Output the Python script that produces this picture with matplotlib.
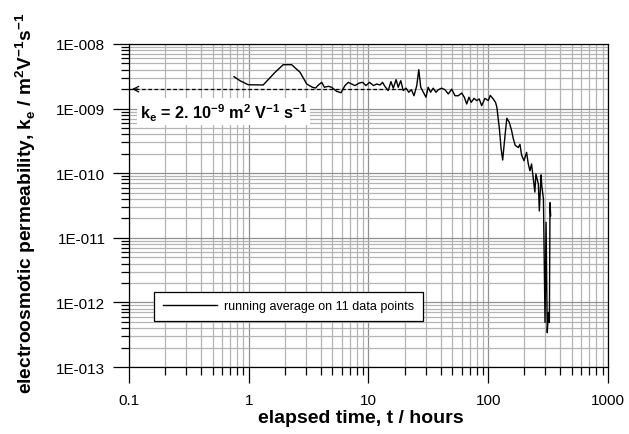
import numpy as np
import matplotlib
matplotlib.use('Agg')
import matplotlib.pyplot as plt
from matplotlib.ticker import FixedLocator, FuncFormatter, NullFormatter

plt.rcParams['font.family'] = ['Liberation Sans', 'DejaVu Sans']
plt.rcParams['mathtext.fontset'] = 'custom'
plt.rcParams['mathtext.rm'] = 'Liberation Sans'
plt.rcParams['mathtext.bf'] = 'Liberation Sans:bold'

# elapsed time (hours) and running-average electroosmotic permeability (m2 V-1 s-1)
time_h = [0.753, 0.845, 0.99, 1.32, 1.66, 1.94, 2.28, 2.68, 3.05, 3.40, 3.62, 3.77,
          4.07, 4.28, 4.62, 4.92, 5.42, 5.89, 6.36, 6.78, 7.23, 7.71, 8.38, 8.94,
          9.52, 10.2, 11.0, 11.7, 12.5, 13.1, 13.7, 14.6, 15.4, 16.1, 17.0, 17.7,
          18.6, 19.5, 20.6, 21.7, 22.8, 24.0, 25.3, 26.3, 27.3, 28.7, 30.2, 31.5,
          33.0, 34.7, 36.6, 38.3, 40.8, 43.5, 46.4, 49.5, 52.8, 56.2, 60.0, 63.1,
          66.1, 69.0, 72.1, 76.0, 80.0, 84.1, 88.1, 93.9, 100, 104, 110, 115,
          118, 124, 128, 132, 138, 143, 150, 157, 162, 168, 178, 184,
          190, 199, 209, 216, 223, 230, 238, 245, 250, 262, 267, 276,
          280, 289, 298, 304, 311, 318, 324, 328, 332]
ke = [3.12e-9, 2.70e-9, 2.34e-9, 2.32e-9, 3.65e-9, 4.78e-9, 4.78e-9, 3.65e-9, 2.40e-9, 2.14e-9, 2.08e-9, 2.27e-9,
      2.55e-9, 2.14e-9, 2.21e-9, 2.14e-9, 1.85e-9, 1.76e-9, 2.27e-9, 2.55e-9, 2.40e-9, 2.27e-9, 2.49e-9, 2.55e-9,
      2.27e-9, 2.55e-9, 2.27e-9, 2.40e-9, 2.32e-9, 2.55e-9, 2.21e-9, 1.90e-9, 2.61e-9, 2.07e-9, 2.81e-9, 2.14e-9,
      2.70e-9, 1.90e-9, 2.07e-9, 1.79e-9, 1.96e-9, 1.58e-9, 2.27e-9, 4.0e-9, 2.14e-9, 1.79e-9, 1.50e-9, 2.14e-9,
      1.79e-9, 2.07e-9, 1.79e-9, 1.96e-9, 2.07e-9, 1.96e-9, 1.68e-9, 2.0e-9, 1.58e-9, 1.58e-9, 1.74e-9, 1.50e-9,
      1.18e-9, 1.50e-9, 1.25e-9, 1.44e-9, 1.33e-9, 1.41e-9, 1.11e-9, 1.44e-9, 1.33e-9, 1.6e-9, 1.41e-9, 1.25e-9,
      1.05e-9, 4.8e-10, 2.4e-10, 1.6e-10, 3.8e-10, 7.1e-10, 6.1e-10, 4.5e-10, 3.4e-10, 2.7e-10, 2.5e-10, 2.8e-10,
      1.9e-10, 1.56e-10, 2.1e-10, 1.39e-10, 1.09e-10, 1.39e-10, 8.1e-11, 5.1e-11, 9.7e-11, 6.8e-11, 2.6e-11, 9.4e-11,
      6.4e-11, 4.0e-11, 4.9e-13, 1.74e-11, 3.4e-13, 7.0e-13, 4.9e-13, 3.5e-11, 2.2e-11]

ke_ref = 2e-9
ref_span = [0.1, 20]

x_major = [0.1, 1, 10, 100, 1000]
y_major = [1e-13, 1e-12, 1e-11, 1e-10, 1e-9, 1e-8]
x_minor = [m * d for d in x_major[:-1] for m in range(2, 10)]
y_minor = [m * d for d in y_major[:-1] for m in range(2, 10)]


def sci_label(v, pos):
    e = int(round(np.log10(v)))
    return f'1E-{-e:03d}'


fig = plt.figure(figsize=(6.29, 4.35), dpi=100)
ax = fig.add_axes([0.2051, 0.154, 0.7615, 0.7426])

ax.set_xscale('log')
ax.set_yscale('log')
ax.set_xlim(0.1, 1000)
ax.set_ylim(1e-13, 1e-8)

ax.xaxis.set_major_locator(FixedLocator(x_major))
ax.xaxis.set_minor_locator(FixedLocator(x_minor))
ax.yaxis.set_major_locator(FixedLocator(y_major))
ax.yaxis.set_minor_locator(FixedLocator(y_minor))
ax.xaxis.set_major_formatter(FuncFormatter(lambda v, p: f'{v:g}'))
ax.xaxis.set_minor_formatter(NullFormatter())
ax.yaxis.set_major_formatter(FuncFormatter(sci_label))
ax.yaxis.set_minor_formatter(NullFormatter())

ax.grid(True, which='minor', color='#b4b4b4', lw=0.9)
ax.grid(True, which='major', color='#909090', lw=0.9)
ax.set_axisbelow(True)

ax.tick_params(which='major', direction='out', length=11.5, width=0.9, labelsize=11)
ax.tick_params(axis='y', which='major', pad=5.5)
ax.tick_params(axis='x', which='major', pad=7)
ax.tick_params(which='minor', direction='out', length=6, width=0.9)
for s in ax.spines.values():
    s.set_linewidth(0.9)

ax.plot(time_h, ke, color='black', lw=1.0, label='running average on 11 data points', zorder=3)

# reference level with arrow
ax.plot(ref_span, [ke_ref, ke_ref], color='black', lw=0.9, ls=(0, (3, 2)), zorder=2)
ax.annotate('', xy=(ref_span[0], ke_ref), xytext=(0.125, ke_ref),
            arrowprops=dict(arrowstyle='->', color='black', lw=0.9, mutation_scale=10))

ax.text(0.124, 8.9e-10,
        r'k$_\mathbf{e}$ = 2. 10$^\mathbf{-9}$ m$^\mathbf{2}$ V$^\mathbf{-1}$ s$^\mathbf{-1}$',
        fontsize=11.7, fontweight='bold', va='center', ha='left', zorder=4,
        bbox=dict(facecolor='white', edgecolor='none', pad=2))

leg = ax.legend(loc='lower left', bbox_to_anchor=(0.04, 0.123), fontsize=9,
                frameon=True, fancybox=False, edgecolor='black', framealpha=1,
                handlelength=4.3, borderpad=0.7, handletextpad=0.6)
leg.get_frame().set_linewidth(0.9)

ax.set_xlabel('elapsed time, t / hours', fontsize=14, fontweight='bold')
ax.xaxis.set_label_coords(0.484, -0.13)
ax.set_ylabel(r'electroosmotic permeability, k$_\mathbf{e}$ / m$^\mathbf{2}$V$^\mathbf{-1}$s$^\mathbf{-1}$',
              fontsize=13.8, fontweight='bold')
ax.yaxis.set_label_coords(-0.19, 0.51)

fig.savefig('out.png', dpi=100)
